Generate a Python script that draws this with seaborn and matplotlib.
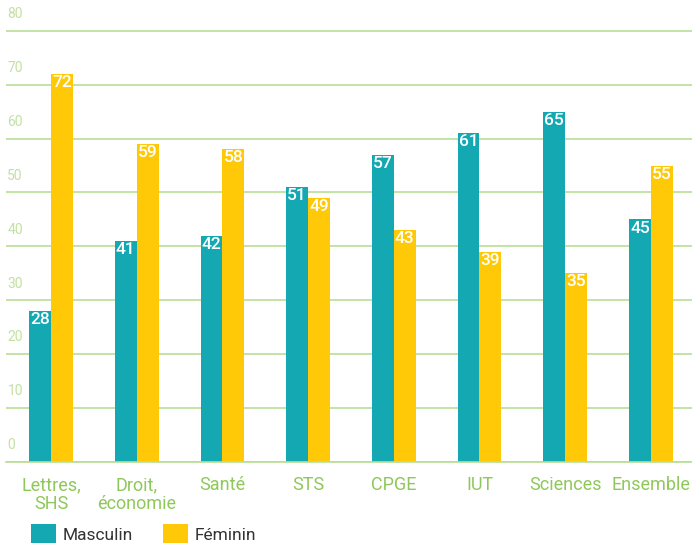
import matplotlib
matplotlib.use("Agg")
import matplotlib.pyplot as plt
import matplotlib.transforms as mtransforms
from matplotlib.patches import Patch
import seaborn as sns
import pandas as pd

categories = ["Lettres,\nSHS", "Droit,\néconomie", "Santé", "STS", "CPGE", "IUT", "Sciences", "Ensemble"]
masculin = [28, 41, 42, 51, 57, 61, 65, 45]
feminin = [72, 59, 58, 49, 43, 39, 35, 55]
series = ["Masculin", "Féminin"]
yticks = [0, 10, 20, 30, 40, 50, 60, 70, 80]

TEAL = "#14A8B3"
YELLOW = "#FFC907"
GRID = "#B9DE96"
TICK = "#C3E0A4"
CAT = "#8FC85A"

sns.set_theme(style="white")
plt.rcParams["font.family"] = ["Roboto", "DejaVu Sans"]

df = pd.DataFrame({
    "cat": categories * 2,
    "val": masculin + feminin,
    "sexe": [series[0]] * len(categories) + [series[1]] * len(categories),
})

fig = plt.figure(figsize=(6.92, 5.43), dpi=100)
ax = fig.add_axes([6 / 692, (543 - 462) / 543, 686 / 692, (462 - 20) / 543])

sns.barplot(data=df, x="cat", y="val", hue="sexe", palette=[TEAL, YELLOW],
            width=0.51, gap=0, saturation=1, ax=ax, legend=False, linewidth=0)

ax.set_xlim(-0.525, 7.48)
ax.set_ylim(0, 82.0)
ax.set_yticks(yticks)
ax.set_yticklabels([])
ax.tick_params(axis="y", length=0)
ax.grid(axis="y", color=GRID, linewidth=1.2)
ax.grid(axis="x", visible=False)
ax.set_axisbelow(True)
for s in ["top", "right", "left"]:
    ax.spines[s].set_visible(False)
ax.spines["bottom"].set_color(GRID)
ax.spines["bottom"].set_linewidth(1.2)
ax.set_xlabel("")
ax.set_ylabel("")
ax.tick_params(axis="x", length=0, pad=10, labelsize=13, labelcolor=CAT)
for lbl in ax.get_xticklabels():
    lbl.set_linespacing(1.05)

trans = mtransforms.blended_transform_factory(ax.transAxes, ax.transData)
off = mtransforms.offset_copy(trans, fig=fig, x=1, y=7, units="points")
for t in yticks:
    ax.text(0, t, str(t), transform=off, ha="left", va="bottom",
            fontsize=10, color=TICK)

for cont in ax.containers:
    for p in cont:
        h = p.get_height()
        ax.text(p.get_x() + p.get_width() / 2, h - 0.2, f"{h:.0f}",
                ha="center", va="top", color="white", fontsize=12.5,
                fontweight="medium")

handles = [Patch(facecolor=TEAL, edgecolor="none"), Patch(facecolor=YELLOW, edgecolor="none")]
fig.legend(handles, series, loc="lower left", bbox_to_anchor=(15 / 692, -16 / 543),
           ncol=2, frameon=False, fontsize=12.5, handlelength=1.45, handleheight=1.3,
           handletextpad=0.4, columnspacing=1.7, labelcolor="#333333")

fig.savefig("out.png", dpi=100)
